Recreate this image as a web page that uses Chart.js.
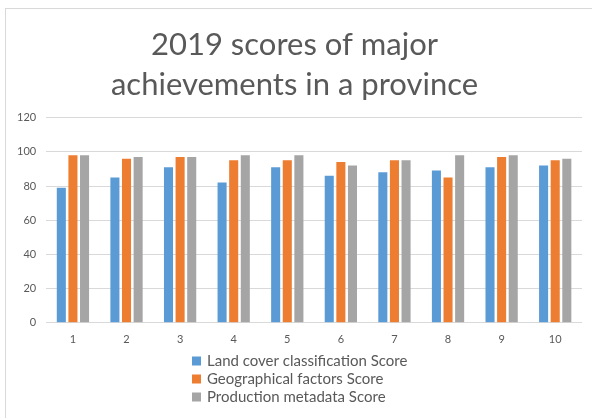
<!DOCTYPE html>
<html>
<head>
<meta charset="utf-8">
<script src="https://cdn.jsdelivr.net/npm/chart.js@4"></script>
<style>
  html, body { margin: 0; padding: 0; background: #ffffff; }
  #wrap { position: relative; width: 592px; height: 418px; overflow: hidden; }
  #frame { position: absolute; left: 5px; top: 8px; width: 700px; height: 500px;
           border-left: 1px solid #D9D9D9; border-top: 1px solid #D9D9D9; pointer-events: none; }
  canvas { position: absolute; left: 0; top: 0; }
</style>
</head>
<body>
<div id="wrap">
  <canvas id="c" width="592" height="418"></canvas>
  <div id="frame"></div>
</div>
<script>
const titleLines = ["2019 scores of major", "achievements in a province"];
const categories = ["1", "2", "3", "4", "5", "6", "7", "8", "9", "10"];
const seriesNames = ["Land cover classification Score", "Geographical factors Score", "Production metadata Score"];
const landCover = [79, 85, 91, 82, 91, 86, 88, 89, 91, 92];
const geoFactors = [98, 96, 97, 95, 95, 94, 95, 85, 97, 95];
const prodMeta = [98, 97, 97, 98, 98, 92, 95, 98, 98, 96];
const seriesColors = ["#5B9BD5", "#ED7D31", "#A5A5A5"];
const yTicks = [0, 20, 40, 60, 80, 100, 120];

const FONT = "Lato, 'Open Sans', 'Liberation Sans', sans-serif";
const TEXT = "#595959";

const bottomLegend = {
  id: 'bottomLegend',
  afterDraw(chart) {
    const ctx = chart.ctx;
    ctx.save();
    ctx.font = "15px " + FONT;
    ctx.textBaseline = 'middle';
    ctx.textAlign = 'left';
    const x0 = 192, y0 = 361, step = 18, box = 9;
    chart.data.datasets.forEach((ds, i) => {
      const y = y0 + i * step;
      ctx.fillStyle = ds.backgroundColor;
      ctx.fillRect(x0, y - box / 2, box, box);
      ctx.fillStyle = TEXT;
      ctx.fillText(ds.label, x0 + 15, y);
    });
    ctx.restore();
  }
};

new Chart(document.getElementById('c'), {
  type: 'bar',
  data: {
    labels: categories,
    datasets: [
      { label: seriesNames[0], data: landCover, backgroundColor: seriesColors[0] },
      { label: seriesNames[1], data: geoFactors, backgroundColor: seriesColors[1] },
      { label: seriesNames[2], data: prodMeta, backgroundColor: seriesColors[2] }
    ]
  },
  options: {
    responsive: false,
    animation: false,
    devicePixelRatio: 1,
    layout: { padding: { left: 7, right: 10, top: 0, bottom: 62 } },
    datasets: { bar: { categoryPercentage: 0.65, barPercentage: 0.78 } },
    plugins: {
      legend: { display: false },
      tooltip: { enabled: false },
      title: {
        display: true,
        text: titleLines,
        color: TEXT,
        font: { family: FONT, size: 31, weight: 'normal', lineHeight: 1.3 },
        padding: { top: 25, bottom: 12 }
      }
    },
    scales: {
      x: {
        grid: { display: false, drawTicks: false },
        border: { display: false },
        ticks: { color: TEXT, font: { family: FONT, size: 11 }, padding: 10 }
      },
      y: {
        min: 0,
        max: 120,
        afterBuildTicks(scale) { scale.ticks = yTicks.map(v => ({ value: v })); },
        grid: { color: "#D9D9D9", drawTicks: false },
        border: { display: false },
        ticks: { color: TEXT, font: { family: FONT, size: 11 }, padding: 10 }
      }
    }
  },
  plugins: [bottomLegend]
});
</script>
</body>
</html>
